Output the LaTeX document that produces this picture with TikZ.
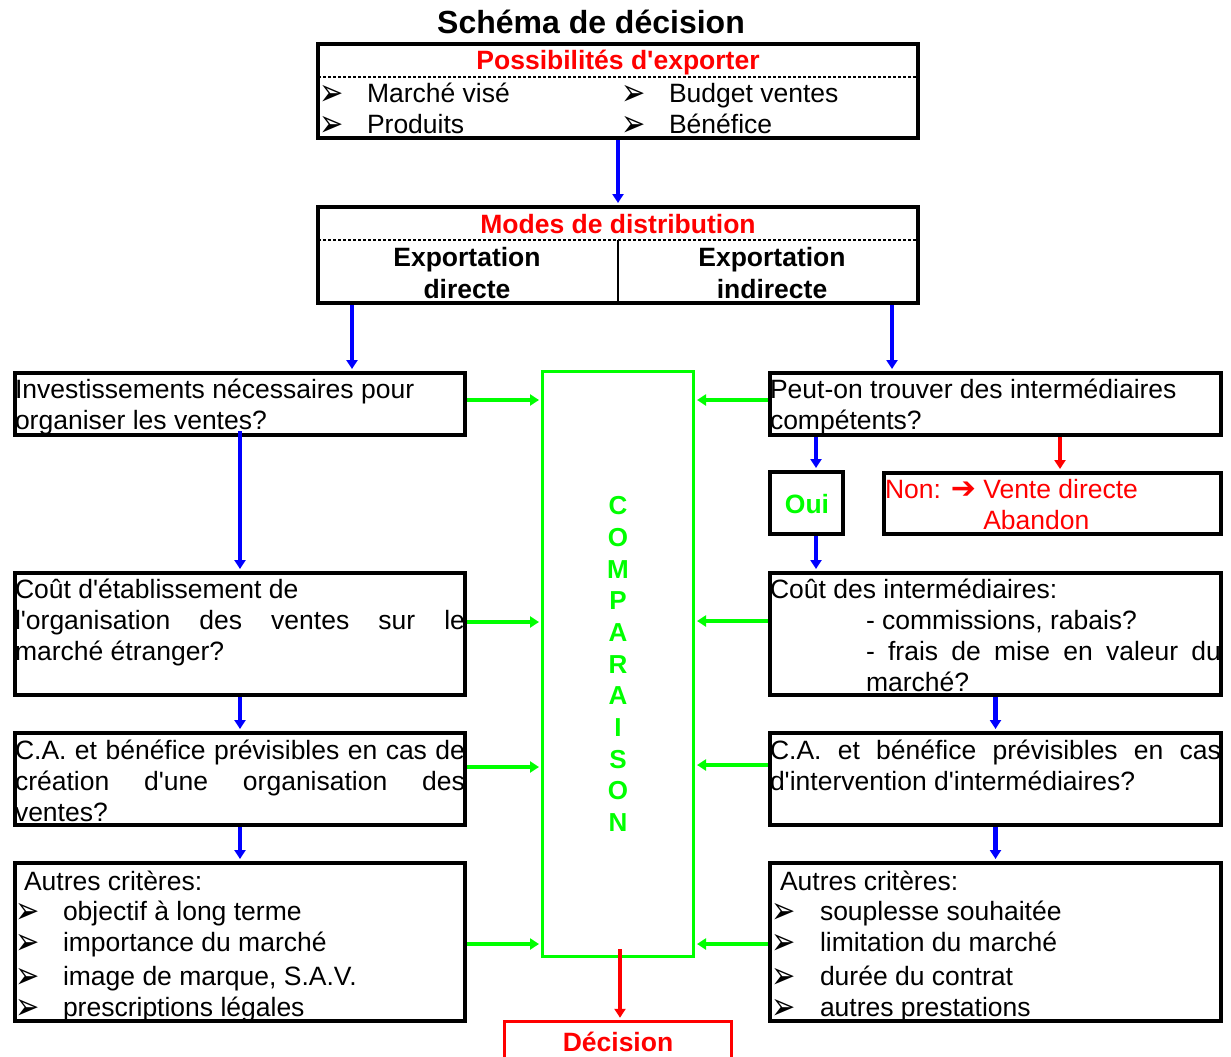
\documentclass[tikz,border=0pt]{standalone}
\usepackage{graphicx}
\usepackage{fontspec}
\setmainfont{Liberation Sans}[Ligatures=TeXOff]
\newfontfamily\sym{DejaVu Sans}
\usetikzlibrary{arrows.meta}
\definecolor{pgreen}{RGB}{0,255,0}
\definecolor{pred}{RGB}{255,0,0}
\definecolor{pblue}{RGB}{0,0,255}
% bullet item: arrowhead glyph in a fixed-width slot, then the text
\newcommand\itm[2]{\makebox[#1][l]{\smash{\raisebox{-3pt}{\scalebox{1}[1.3]{\sym\fontsize{29}{29}\selectfont ➢}}}}#2}
% heavy right arrow
\newcommand\harr{{\sym\bfseries\fontsize{30}{30}\selectfont ➔}}
% justified line stretched to a given width
\newcommand\jline[2]{\makebox[#1][s]{#2}}

\begin{document}
\begin{tikzpicture}[x=1pt,y=-1pt,
  body/.style={font=\fontsize{26.5}{31}\selectfont, inner sep=0pt, outer sep=0pt},
  txt/.style={body, anchor=base west},
  para/.style={body, anchor=north west, align=left},
  hdr/.style={inner sep=0pt, outer sep=0pt, font=\bfseries\fontsize{26.5}{31}\selectfont, anchor=base},
  box/.style={draw=black, line width=4pt, inner sep=0pt},
  gbox/.style={draw=pgreen, line width=3pt, inner sep=0pt},
  rbox/.style={draw=pred, line width=3.5pt, inner sep=0pt},
  sep/.style={draw=black, line width=1.2pt, dash pattern=on 3pt off 2pt},
  arr/.style={line width=4.5pt, -{Triangle[width=11pt,length=9pt]}, shorten >=2pt},
  barrow/.style={arr, draw=pblue},
  garrow/.style={arr, draw=pgreen},
  rarrow/.style={arr, draw=pred}]

\clip (0,0) rectangle (1231,1057);

% title
\node[inner sep=0pt, font=\bfseries\fontsize{32}{36}\selectfont, anchor=base] (title) at (591,33.5) {Schéma de décision};

% export possibilities
\node[box, minimum width=600pt, minimum height=94pt] (B1) at (618,91) {};
\draw[sep] (318,77) -- (918,77);
\node[hdr, text=pred] (h1) at (618,70) {Possibilités d'exporter};
\node[txt] (b1a) at (319,102.5) {\itm{48pt}{Marché visé}};
\node[txt] (b1b) at (319,133.5) {\itm{48pt}{Produits}};
\node[txt] (b1c) at (621,102.5) {\itm{48pt}{Budget ventes}};
\node[txt] (b1d) at (621,133.5) {\itm{48pt}{Bénéfice}};

% distribution modes
\node[box, minimum width=600pt, minimum height=96pt] (B2) at (618,255) {};
\draw[sep] (318,240) -- (918,240);
\draw[line width=2pt] (618,240) -- (618,303);
\node[hdr, text=pred] (h2) at (618,233.5) {Modes de distribution};
\node[hdr, anchor=north, align=center, font=\bfseries\fontsize{26.5}{32}\selectfont] (dir) at (467,244.1) {\strut Exportation\\directe};
\node[hdr, anchor=north, align=center, font=\bfseries\fontsize{26.5}{32}\selectfont] (ind) at (772,244.1) {\strut Exportation\\indirecte};

% comparison column
\node[gbox, minimum width=151pt, minimum height=585pt] (C) at (618,664) {};
\node[inner sep=0pt, anchor=north, align=center, text=pgreen, font=\bfseries\fontsize{26}{31.7}\selectfont] (cmp) at (618,492.3)
  {\strut C\\O\\M\\P\\A\\R\\A\\I\\S\\O\\N};

% direct export column
\node[box, minimum width=450pt, minimum height=62pt] (L1) at (240,404) {};
\node[para] (tL1) at (15,376.8) {\strut Investissements nécessaires pour\\organiser les ventes?};
\node[box, minimum width=450pt, minimum height=122pt] (L2) at (240,634) {};
\node[para] (tL2) at (15,576.8) {\strut Coût d'établissement de\\\jline{450pt}{l'organisation des ventes sur le}\\marché étranger?};
\node[box, minimum width=450pt, minimum height=92pt] (L3) at (240,779) {};
\node[para] (tL3) at (15,737.8) {\strut\jline{450pt}{C.A. et bénéfice prévisibles en cas de}\\\jline{450pt}{création d'une organisation des}\\ventes?};
\node[box, minimum width=450pt, minimum height=158pt] (L4) at (240,942) {};
\node[txt] (aL4) at (24,890.5) {Autres critères:};
\node[para] (tL4) at (15,898.8) {\strut\itm{48pt}{objectif à long terme}\\\itm{48pt}{importance du marché}\\[3pt]\itm{48pt}{image de marque, S.A.V.}\\\itm{48pt}{prescriptions légales}};

% indirect export column
\node[box, minimum width=451pt, minimum height=62pt] (R1) at (995.5,404) {};
\node[para] (tR1) at (770,376.8) {\strut Peut-on trouver des intermédiaires\\compétents?};
\node[box, minimum width=73pt, minimum height=62pt] (Oui) at (806.5,503) {};
\node[hdr, text=pgreen] (tOui) at (807,513.5) {Oui};
\node[box, minimum width=337pt, minimum height=61pt] (Non) at (1052.5,503.5) {};
\node[para, text=pred] (tNon) at (885,476.8) {\strut Non: \harr{} Vente directe\\\phantom{Non: \harr{} }Abandon};
\node[box, minimum width=451pt, minimum height=122pt] (R2) at (995.5,634) {};
\node[para] (tR2) at (770,576.8) {\strut Coût des intermédiaires:\\\hspace*{96pt}- commissions, rabais?\\\hspace*{96pt}\jline{355pt}{- frais de mise en valeur du}\\\hspace*{96pt}marché?};
\node[box, minimum width=451pt, minimum height=92pt] (R3) at (995.5,779) {};
\node[para] (tR3) at (770,737.8) {\strut\jline{451pt}{C.A. et bénéfice prévisibles en cas}\\d'intervention d'intermédiaires?};
\node[box, minimum width=451pt, minimum height=158pt] (R4) at (995.5,942) {};
\node[txt] (aR4) at (780,890.5) {Autres critères:};
\node[para] (tR4) at (771,898.8) {\strut\itm{49pt}{souplesse souhaitée}\\\itm{49pt}{limitation du marché}\\[3pt]\itm{49pt}{durée du contrat}\\\itm{49pt}{autres prestations}};

% decision
\node[rbox, minimum width=227pt, minimum height=77pt] (Dec) at (618,1060) {};
\node[hdr, text=pred] (tDec) at (618,1051.5) {Décision};

% arrow columns
\coordinate (xl) at (352,0);
\coordinate (xr) at (892,0);
\coordinate (xoui) at (816,0);
\coordinate (xnon) at (1060,0);
\coordinate (xd) at (620,0);

% blue flow
\draw[barrow] (B1) -- (B2);
\draw[barrow] (B2.south -| xl) -- (L1.north -| xl);
\draw[barrow] (B2.south -| xr) -- (R1.north -| xr);
\draw[barrow, shorten <=-6pt] (L1) -- (L2);
\draw[barrow] (L2) -- (L3);
\draw[barrow] (L3) -- (L4);
\draw[barrow] (R1.south -| xoui) -- (Oui.north -| xoui);
\draw[barrow] (Oui.south -| xoui) -- (R2.north -| xoui);
\draw[rarrow] (R1.south -| xnon) -- (Non.north -| xnon);
\draw[barrow] (R2) -- (R3);
\draw[barrow] (R3) -- (R4);

% green arrows into the comparison
\coordinate (gl1) at ([yshift=4pt]L1.east);
\coordinate (gl2) at ([yshift=12pt]L2.east);
\coordinate (gl3) at ([yshift=12pt]L3.east);
\coordinate (gl4) at ([yshift=-2pt]L4.east);
\coordinate (gr1) at ([yshift=4pt]R1.west);
\coordinate (gr2) at ([yshift=13pt]R2.west);
\coordinate (gr3) at ([yshift=14pt]R3.west);
\coordinate (gr4) at ([yshift=-2pt]R4.west);
\foreach \g in {gl1,gl2,gl3,gl4} \draw[garrow] (\g) -- (\g -| C.west);
\foreach \g in {gr1,gr2,gr3,gr4} \draw[garrow] (\g) -- (\g -| C.east);

% red arrow to the decision
\coordinate (cs) at ([yshift=9pt]C.south);
\draw[rarrow] (cs -| xd) -- (Dec.north -| xd);
\end{tikzpicture}
\end{document}
